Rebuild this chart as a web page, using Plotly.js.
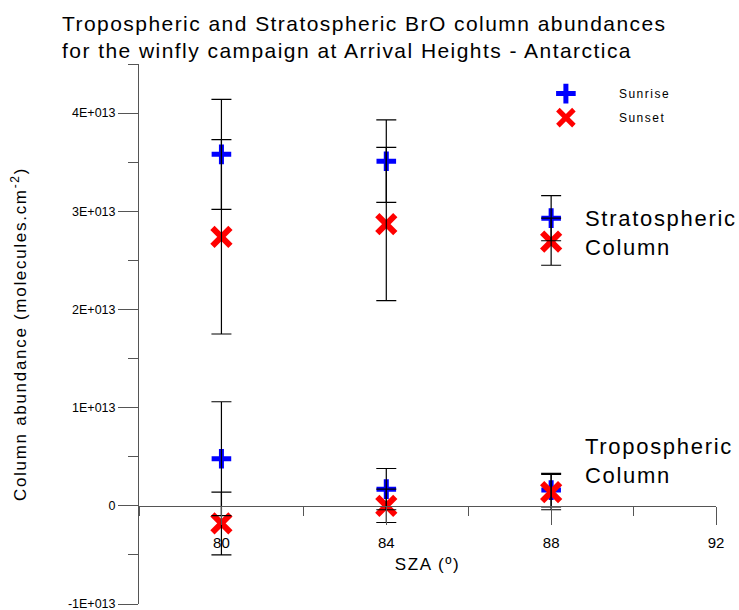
<!DOCTYPE html>
<html>
<head>
<meta charset="utf-8">
<script src="https://cdn.plot.ly/plotly-3.0.1.min.js"></script>
<style>
  html, body { margin: 0; padding: 0; background: #fff; }
  #chart { width: 739px; height: 610px; }
  /* loose letter spacing on the larger lettering */
  .gtitle { letter-spacing: 1.45px; }
  .annotation-text { letter-spacing: 1.7px; }
  .xtitle { letter-spacing: 1.6px; }
  .ytitle { letter-spacing: 1.7px; }
  .legendtext { letter-spacing: 1.5px; }
</style>
</head>
<body>
<div id="chart"></div>
<script>
// Solar zenith angles of the measurements (degrees)
const sza = [80, 84, 88];

// Stratospheric BrO columns (molecules/cm^2) and their uncertainties
const stratSunrise    = [3.58e13, 3.51e13, 2.93e13];
const stratSunriseErr = [0.56e13, 0.42e13, 0.23e13];
const stratSunset     = [2.74e13, 2.87e13, 2.69e13];
const stratSunsetErr  = [0.99e13, 0.78e13, 0.24e13];

// Tropospheric BrO columns (molecules/cm^2) and their uncertainties
const tropSunrise    = [0.48e13, 0.17e13, 0.16e13];
const tropSunriseErr = [0.58e13, 0.21e13, 0.17e13];
const tropSunset     = [-0.18e13, 0.00e13, 0.14e13];
const tropSunsetErr  = [0.32e13, 0.17e13, 0.18e13];

// Axis ticks
const yTickVals = [-1e13, 0, 1e13, 2e13, 3e13, 4e13];
const yTickText = ['-1E+013', '0', '1E+013', '2E+013', '3E+013', '4E+013'];

const FONT = 'Liberation Sans, Arial, sans-serif';
const AXIS_GREY = '#555';

const xAll = sza.concat(sza);
const sunriseY = stratSunrise.concat(tropSunrise);
const sunriseE = stratSunriseErr.concat(tropSunriseErr);
const sunsetY = stratSunset.concat(tropSunset);
const sunsetE = stratSunsetErr.concat(tropSunsetErr);

const errStyle = arr => ({
  type: 'data', array: arr, visible: true,
  color: '#000', thickness: 1.2, width: 10
});

const traces = [
  {
    name: 'Sunrise', legendgroup: 'rise',
    x: xAll, y: sunriseY, type: 'scatter', mode: 'markers',
    marker: { symbol: 'cross-thin', size: 14, color: '#0000ff',
              line: { color: '#0000ff', width: 5 } },
    hoverinfo: 'x+y'
  },
  {
    name: 'Sunset', legendgroup: 'set',
    x: xAll, y: sunsetY, type: 'scatter', mode: 'markers',
    marker: { symbol: 'x-thin', size: 18, color: '#ff0000',
              line: { color: '#ff0000', width: 6 } },
    hoverinfo: 'x+y'
  },
  // error bars drawn over the symbols
  {
    x: xAll, y: sunriseY, type: 'scatter', mode: 'markers', showlegend: false,
    marker: { size: 1, color: 'rgba(0,0,0,0)' },
    error_y: errStyle(sunriseE), hoverinfo: 'skip'
  },
  {
    x: xAll, y: sunsetY, type: 'scatter', mode: 'markers', showlegend: false,
    marker: { size: 1, color: 'rgba(0,0,0,0)' },
    error_y: errStyle(sunsetE), hoverinfo: 'skip'
  }
];

const yMin = -1e13, yMax = 4.5e13;

const layout = {
  width: 739, height: 610,
  margin: { l: 139, r: 23, t: 64, b: 6 },
  paper_bgcolor: '#fff', plot_bgcolor: '#fff',
  font: { family: FONT, color: '#000' },
  showlegend: true,
  title: {
    text: 'Tropospheric and Stratospheric BrO column abundances<br>for the winfly campaign at Arrival Heights - Antarctica',
    font: { family: FONT, size: 21, color: '#000' },
    xref: 'container', x: 62 / 739, xanchor: 'left',
    yref: 'container', y: 1 - 31 / 610, yanchor: 'top'
  },
  xaxis: {
    range: [78, 92],
    anchor: 'free',
    position: (0 - yMin) / (yMax - yMin),
    showline: true, linecolor: AXIS_GREY, linewidth: 1,
    showgrid: false, zeroline: false,
    tickmode: 'linear', tick0: 80, dtick: 4,
    ticks: 'outside', ticklen: 18, tickcolor: AXIS_GREY, tickwidth: 1,
    ticklabelstandoff: 5,
    tickfont: { family: FONT, size: 15, color: '#000' },
    minor: { ticks: 'outside', dtick: 2, tick0: 80, ticklen: 9,
             tickcolor: AXIS_GREY, tickwidth: 1, showgrid: false },
    title: { text: 'SZA (º)', font: { family: FONT, size: 17, color: '#000' }, standoff: 8 }
  },
  yaxis: {
    range: [yMin, yMax],
    showline: true, linecolor: AXIS_GREY, linewidth: 1,
    showgrid: false, zeroline: false,
    tickmode: 'array', tickvals: yTickVals, ticktext: yTickText,
    ticks: 'outside', ticklen: 20, tickcolor: AXIS_GREY, tickwidth: 1,
    ticklabeloverflow: 'allow',
    tickfont: { family: FONT, size: 12.5, color: '#000' },
    minor: { ticks: 'outside', dtick: 0.5e13, tick0: 0, ticklen: 10,
             tickcolor: AXIS_GREY, tickwidth: 1, showgrid: false },
    title: { text: 'Column abundance (molecules.cm<sup>-2</sup>)',
             font: { family: FONT, size: 17, color: '#000' }, standoff: 36 }
  },
  legend: {
    x: 0.648, xanchor: 'left', y: 0.972, yanchor: 'top',
    bgcolor: 'rgba(0,0,0,0)', borderwidth: 0,
    itemwidth: 96, traceorder: 'grouped', tracegroupgap: 5,
    font: { family: FONT, size: 12, color: '#000' }
  },
  annotations: [
    {
      xref: 'paper', yref: 'paper', x: 0.7695, y: 0.687,
      xanchor: 'left', yanchor: 'middle', align: 'left', showarrow: false,
      text: 'Stratospheric<br>Column',
      font: { family: FONT, size: 22, color: '#000' }
    },
    {
      xref: 'paper', yref: 'paper', x: 0.7695, y: 0.265,
      xanchor: 'left', yanchor: 'middle', align: 'left', showarrow: false,
      text: 'Tropospheric<br>Column',
      font: { family: FONT, size: 22, color: '#000' }
    }
  ]
};

Plotly.newPlot('chart', traces, layout, { displayModeBar: false, staticPlot: true });
</script>
</body>
</html>
